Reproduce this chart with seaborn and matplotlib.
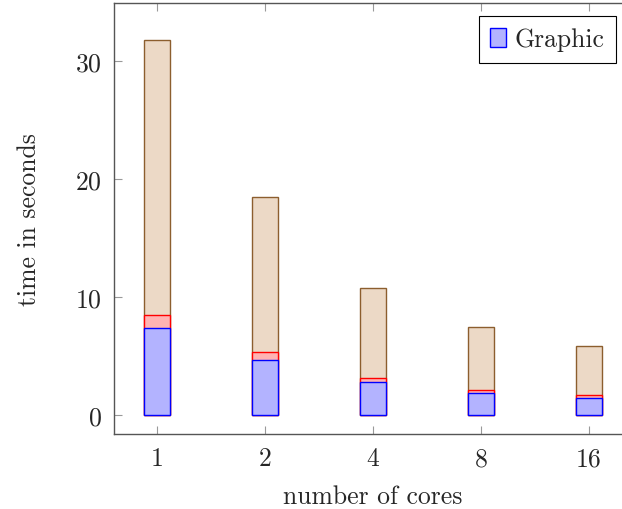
import matplotlib
matplotlib.use("Agg")
import matplotlib.pyplot as plt
from matplotlib.patches import Patch
import numpy as np
import pandas as pd
import seaborn as sns

cores = ["1", "2", "4", "8", "16"]
graphic = [7.35, 4.66, 2.77, 1.86, 1.41]
middle = [1.15, 0.65, 0.37, 0.23, 0.26]
rest = [23.3, 13.16, 7.62, 5.37, 4.2]

sns.set_style("white")
plt.rcParams["font.family"] = ["cmr10", "DejaVu Serif"]
plt.rcParams["axes.formatter.use_mathtext"] = True
plt.rcParams["mathtext.fontset"] = "cm"

# stacked bars drawn as cumulative heights, tallest first
g = np.array(graphic)
m = g + np.array(middle)
t = m + np.array(rest)
df = pd.DataFrame({"cores": cores, "graphic": g, "middle": m, "total": t})

fig = plt.figure(figsize=(6.22, 5.10), dpi=100)
ax = fig.add_axes([114 / 622, 75 / 510, 518 / 622, 431 / 510])

layers = [
    ("total", (0.925, 0.85, 0.775), (0.55, 0.37, 0.18)),
    ("middle", (1.0, 0.7, 0.7), (1.0, 0.0, 0.0)),
    ("graphic", (0.7, 0.7, 1.0), (0.0, 0.0, 1.0)),
]
for col, fill, edge in layers:
    sns.barplot(data=df, x="cores", y=col, order=cores, color=fill,
                saturation=1, width=0.24, edgecolor=edge, linewidth=1,
                ax=ax)

fs = 18.5
ax.set_xlim(-0.4, 4.4)
ax.set_ylim(-1.6, 34.9)
ax.set_yticks([0, 10, 20, 30])
ax.set_xlabel("number of cores", fontsize=fs, labelpad=10)
ax.set_ylabel("time in seconds", fontsize=fs, labelpad=24)
ax.tick_params(axis="both", which="both", direction="in", length=6,
               color="#999999", labelsize=fs, top=True, right=True,
               bottom=True, left=True, pad=9)
for s in ax.spines.values():
    s.set_color("#555555")
    s.set_linewidth(1)

handle = Patch(facecolor=(0.7, 0.7, 1.0), edgecolor="blue", linewidth=1)
leg = ax.legend([handle], ["Graphic"], loc="upper right",
                bbox_to_anchor=(616 / 622, 1 - 17 / 510),
                bbox_transform=fig.transFigure, fontsize=fs,
                fancybox=False, framealpha=1, edgecolor="black",
                handlelength=0.6, handleheight=0.8, handletextpad=0.35,
                borderpad=0.45, borderaxespad=0)
leg.get_frame().set_linewidth(0.8)

fig.savefig("out.png", dpi=100)
